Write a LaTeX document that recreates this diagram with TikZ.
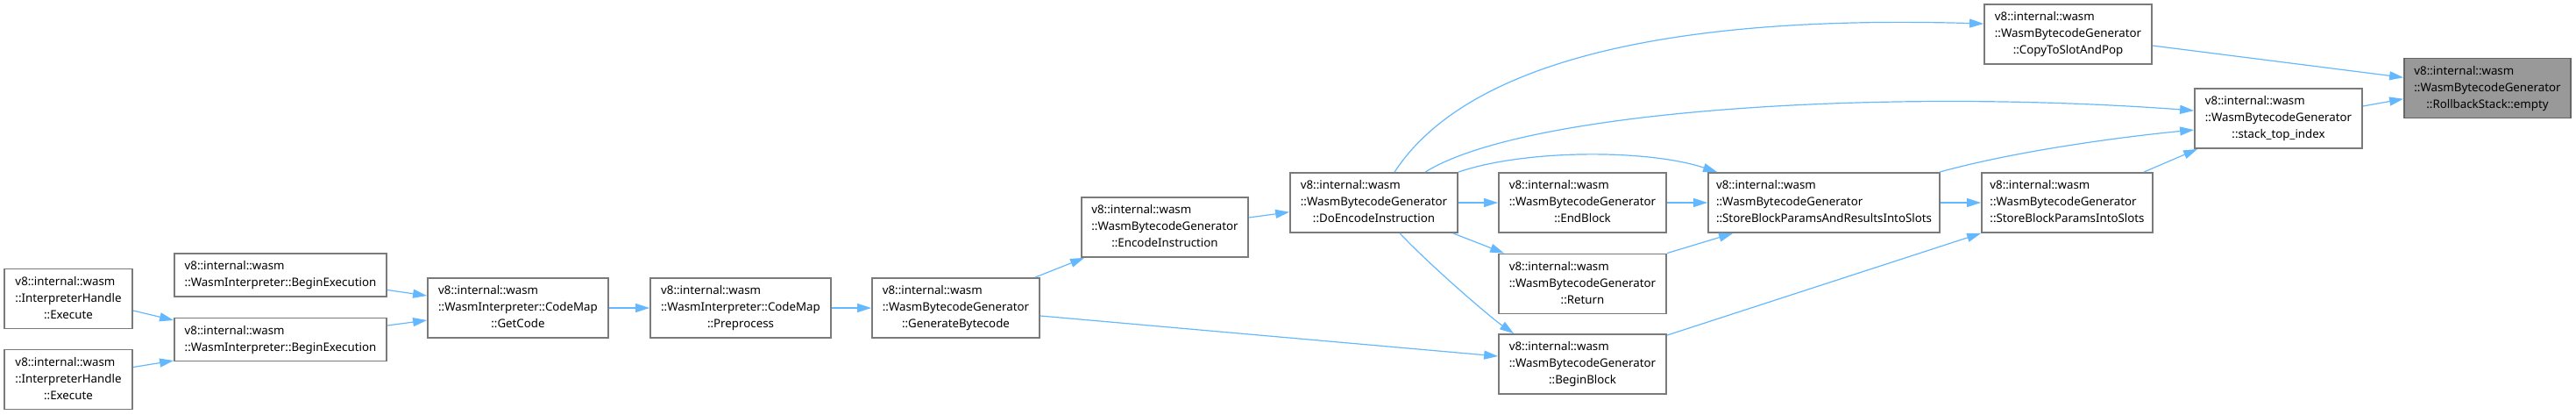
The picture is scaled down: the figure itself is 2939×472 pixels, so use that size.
\documentclass[tikz,border=0pt]{standalone}
\usepackage{fontspec}
\newfontfamily\dfont{Noto Sans}
\usetikzlibrary{arrows.meta,calc}
\definecolor{edgecol}{HTML}{63B8FF}
\definecolor{boxcol}{HTML}{7A7A7A}
\definecolor{hlfill}{HTML}{999999}
\definecolor{hldraw}{HTML}{666666}
\newcommand\lblthree[3]{\begin{tabular}{@{}l@{}}#1\\#2\\\multicolumn{1}{@{}c@{}}{#3}\end{tabular}}
\newcommand\lbltwo[2]{\begin{tabular}{@{}l@{}}#1\\\multicolumn{1}{@{}c@{}}{#2}\end{tabular}}
\tikzset{
  fnbox/.style={draw=boxcol, line width=0.9pt, fill=white, rectangle, inner sep=0pt,
    minimum height=34pt, font=\dfont\fontsize{6.65}{9.5}\selectfont},
  twoline/.style={minimum height=24.5pt},
  hlbox/.style={fill=hlfill, draw=hldraw},
  edge/.style={draw=edgecol, line width=0.6pt, -{Triangle[length=8pt,width=5pt]}}
}
\begin{document}
\begin{tikzpicture}[x=0.5pt,y=-0.5pt]
\useasboundingbox (0,0) rectangle (2939,472);
% nodes
\node[fnbox, minimum width=73pt] (exec1) at (78,340.5) {\lblthree{v8::internal::wasm}{::InterpreterHandle}{::Execute}};
\node[fnbox, minimum width=73pt] (exec2) at (78,432.5) {\lblthree{v8::internal::wasm}{::InterpreterHandle}{::Execute}};
\node[fnbox, twoline, minimum width=121pt] (begin1) at (320,313.5) {\lbltwo{v8::internal::wasm}{::WasmInterpreter::BeginExecution}};
\node[fnbox, twoline, minimum width=121pt] (begin2) at (320,387) {\lbltwo{v8::internal::wasm}{::WasmInterpreter::BeginExecution}};
\node[fnbox, minimum width=103pt] (getcode) at (591,351) {\lblthree{v8::internal::wasm}{::WasmInterpreter::CodeMap}{::GetCode}};
\node[fnbox, minimum width=103pt] (preproc) at (845,351) {\lblthree{v8::internal::wasm}{::WasmInterpreter::CodeMap}{::Preprocess}};
\node[fnbox, minimum width=95.5pt] (genbc) at (1090.5,351) {\lblthree{v8::internal::wasm}{::WasmBytecodeGenerator}{::GenerateBytecode}};
\node[fnbox, minimum width=95pt] (encode) at (1329,259) {\lblthree{v8::internal::wasm}{::WasmBytecodeGenerator}{::EncodeInstruction}};
\node[fnbox, minimum width=95.5pt] (doenc) at (1567.5,231) {\lblthree{v8::internal::wasm}{::WasmBytecodeGenerator}{::DoEncodeInstruction}};
\node[fnbox, minimum width=95.5pt] (endblk) at (1805.5,231) {\lblthree{v8::internal::wasm}{::WasmBytecodeGenerator}{::EndBlock}};
\node[fnbox, minimum width=95.5pt] (ret) at (1805.5,323.5) {\lblthree{v8::internal::wasm}{::WasmBytecodeGenerator}{::Return}};
\node[fnbox, minimum width=95.5pt] (beginblk) at (1805.5,415) {\lblthree{v8::internal::wasm}{::WasmBytecodeGenerator}{::BeginBlock}};
\node[fnbox, minimum width=132pt] (storear) at (2081,231) {\lblthree{v8::internal::wasm}{::WasmBytecodeGenerator}{::StoreBlockParamsAndResultsIntoSlots}};
\node[fnbox, minimum width=97.5pt] (storeis) at (2358.5,231) {\lblthree{v8::internal::wasm}{::WasmBytecodeGenerator}{::StoreBlockParamsIntoSlots}};
\node[fnbox, minimum width=95.5pt] (copy) at (2359.5,39) {\lblthree{v8::internal::wasm}{::WasmBytecodeGenerator}{::CopyToSlotAndPop}};
\node[fnbox, minimum width=95.5pt] (stacktop) at (2599.5,135) {\lblthree{v8::internal::wasm}{::WasmBytecodeGenerator}{::stack\_top\_index}};
\node[fnbox, hlbox, minimum width=95pt] (empty) at (2838,100.5) {\lblthree{v8::internal::wasm}{::WasmBytecodeGenerator}{::RollbackStack::empty}};
% edges
\draw[edge] ($(exec1.east)+(0,13.5)$) -- ($(begin2.west)+(0,-22)$);
\draw[edge] ($(exec2.east)+(0,-14)$) -- ($(begin2.west)+(0,24)$);
\draw[edge] ($(begin1.east)+(0,17)$) -- ($(getcode.west)+(0,-14)$);
\draw[edge] ($(begin2.east)+(0,-16)$) -- ($(getcode.west)+(0,14)$);
\draw[edge] (getcode) -- (preproc);
\draw[edge] (preproc) -- (genbc);
\draw[edge] ($(genbc.north east)+(-6,0)$) -- ($(encode.south west)+(4,0)$);
\draw[edge] ($(genbc.east)+(0,9)$) -- ($(beginblk.west)+(0,-9)$);
\draw[edge] ($(encode.east)+(0,-11)$) -- ($(doenc.west)+(0,10.7)$);
\draw[edge] (doenc) -- (endblk);
\draw[edge] ($(doenc.south east)+(-6,0)$) -- ($(ret.north west)+(7,0)$);
\draw[edge] ($(doenc.south west)+(126,0)$) .. controls (1628,299) and (1698,360) .. ($(beginblk.north west)+(18,0)$);
\draw[edge] (doenc.north east) .. controls (1740,170) and (1880,170) .. ($(storear.north west)+(11,0)$);
\draw[edge] ($(doenc.north west)+(155,0)$) .. controls (1740,125) and (2150,100) .. ($(stacktop.west)+(0,-9)$);
\draw[edge] ($(doenc.north west)+(120,0)$) .. controls (1660,90) and (1850,15) .. ($(copy.west)+(0,-12)$);
\draw[edge] (endblk) -- (storear);
\draw[edge] (ret.north east) -- ($(storear.south west)+(29,0)$);
\draw[edge] ($(beginblk.north east)+(0,2)$) -- (storeis.south west);
\draw[edge] (storear) -- (storeis);
\draw[edge] ($(storear.north east)+(-1,0)$) .. controls (2300,172) and (2420,156) .. ($(stacktop.west)+(0,13)$);
\draw[edge] ($(storeis.north east)+(-11,0)$) -- ($(stacktop.south west)+(4,0)$);
\draw[edge] ($(copy.east)+(0,13)$) -- ($(empty.west)+(0,-12.2)$);
\draw[edge] ($(stacktop.east)+(0,-14)$) -- ($(empty.west)+(0,12.2)$);
\end{tikzpicture}
\end{document}
